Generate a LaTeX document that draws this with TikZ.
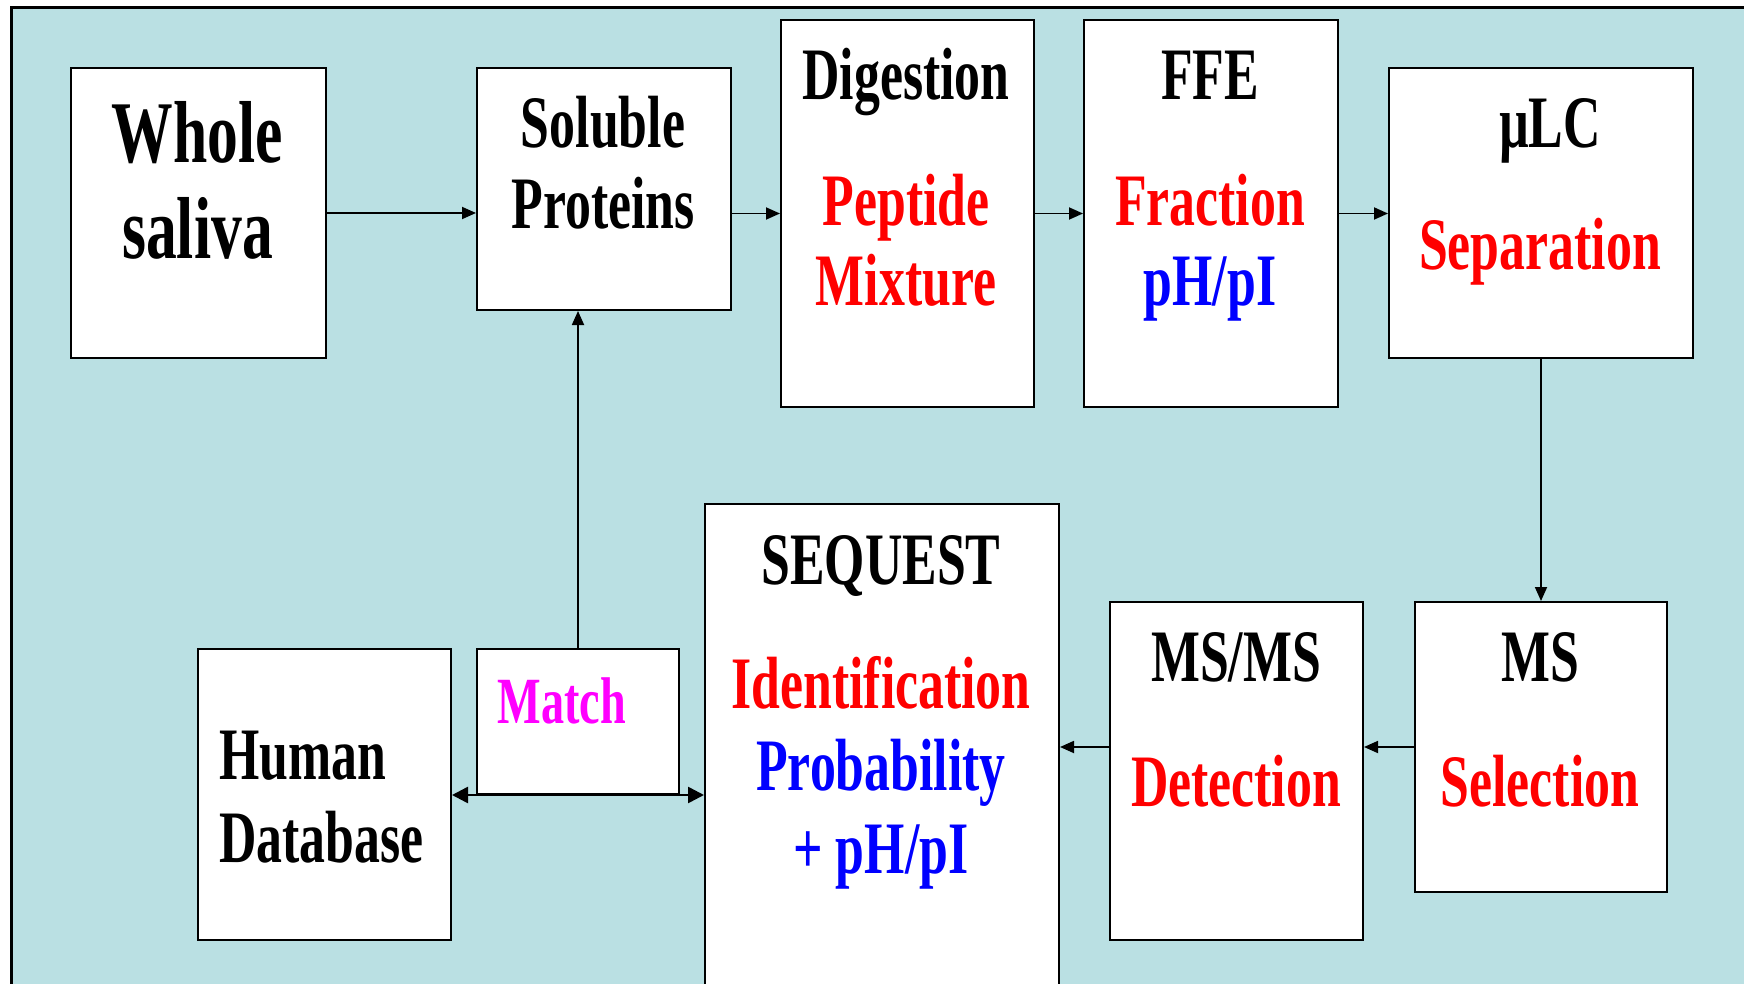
\documentclass[tikz,border=0pt]{standalone}
\usepackage{fontspec}
\setmainfont{Liberation Serif}[FakeStretch=0.7]
\usetikzlibrary{arrows.meta}

\definecolor{bgteal}{HTML}{BAE0E3}
\definecolor{matchpink}{HTML}{FF00FF}

\tikzset{
  box/.style={draw=black, line width=1pt, fill=white, anchor=north west, inner sep=0pt},
  lbl/.style={anchor=base, inner sep=0pt, align=center, font=\bfseries\fontsize{37}{40}\selectfont},
  flow/.style={-{Triangle[length=7pt,width=6pt]}, line width=0.9pt},
}

\begin{document}
\begin{tikzpicture}[x=0.5pt,y=-0.5pt]
\clip (0,0) rectangle (1744,984);
\draw[line width=1.5pt, fill=bgteal] (11,8) rectangle (1800,1050);

% top row
\node[box, minimum width=127.5pt, minimum height=145pt] (ws) at (70,67) {};
\node[box, minimum width=127pt, minimum height=121pt] (sol) at (476,67) {};
\node[box, minimum width=126.5pt, minimum height=193.5pt] (dig) at (780,19) {};
\node[box, minimum width=127pt, minimum height=193.5pt] (ffe) at (1083,19) {};
\node[box, minimum width=152pt, minimum height=145pt] (mlc) at (1388,67) {};

% bottom row
\node[box, minimum width=126pt, minimum height=145pt] (ms) at (1414,601) {};
\node[box, minimum width=126.5pt, minimum height=169pt] (msms) at (1109,601) {};
\node[box, minimum width=177pt, minimum height=250pt] (seq) at (704,503) {};
\node[box, minimum width=101pt, minimum height=72.5pt] (match) at (476,648) {};
\node[box, minimum width=126.5pt, minimum height=145.5pt] (hdb) at (197,648) {};

% texts (multi-line ones sit on their last baseline)
\node[lbl, font=\bfseries\fontsize{44}{47.5}\selectfont] (wsT) at (197.5,258) {Whole\\saliva};
\node[lbl] (solT) at (603,228) {Soluble\\Proteins};
\node[lbl] (digT) at (906,100) {Digestion};
\node[lbl, text=red] (pepT) at (906,306) {Peptide\\Mixture};
\node[lbl] (ffeT) at (1210,100) {FFE};
\node[lbl, text=red] (fracT) at (1210,226) {Fraction};
\node[lbl, text=blue] (phT) at (1210,306) {pH/pI};
\node[lbl] (mlcT) at (1550,148) {µLC};
\node[lbl, text=red] (sepT) at (1540,270) {Separation};
\node[lbl] (msT) at (1540,681) {MS};
\node[lbl, text=red] (selT) at (1540,806) {Selection};
\node[lbl] (msmsT) at (1236,681) {MS/MS};
\node[lbl, text=red] (detT) at (1236,806) {Detection};
\node[lbl] (seqT) at (881,584) {SEQUEST};
\node[lbl, text=red] (idT) at (881,708) {Identification};
\node[lbl, text=blue, font=\bfseries\fontsize{37}{41.5}\selectfont] (probT) at (881,873) {Probability\\+ pH/pI};
\node[lbl, text=matchpink, font=\bfseries\fontsize{33}{36}\selectfont] (matchT) at (562,723) {Match};
\node[lbl, anchor=base west, align=left, font=\bfseries\fontsize{37}{41.5}\selectfont] (hdbT) at (219,862) {Human\\Database};

% connectors
\draw[flow] (ws.east) -- (ws.east -| sol.west);
\draw[flow] (sol.east |- dig.west) -- (dig.west);
\draw[flow] (dig.east) -- (ffe.west);
\draw[flow] (ffe.east) -- (ffe.east -| mlc.west);
\draw[flow] (mlc.south) -- (ms.north);
\draw[flow] (ms.west) -- (ms.west -| msms.east);
\draw[flow] (msms.west |- ms.west) -- (ms.west -| seq.east);
\draw[flow] (match.north) -- (match.north |- sol.south);
\draw[{Triangle[length=8pt,width=8pt]}-{Triangle[length=8pt,width=8pt]}, line width=1.3pt]
  (match.south -| hdb.east) -- (match.south -| seq.west);
\end{tikzpicture}
\end{document}
